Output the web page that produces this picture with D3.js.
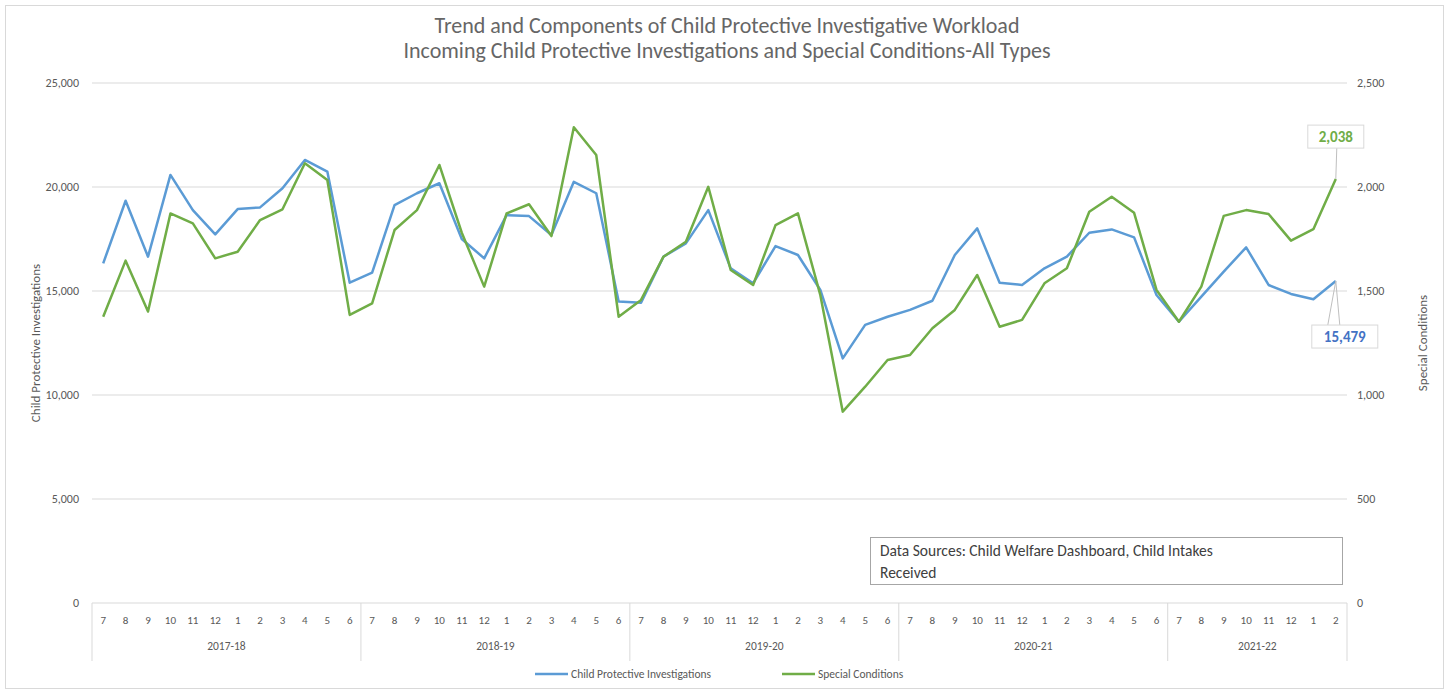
<!DOCTYPE html>
<html>
<head>
<meta charset="utf-8">
<script src="https://cdn.jsdelivr.net/npm/d3@7"></script>
<style>
  body { margin: 0; background: #fff; }
  text { font-family: Carlito, "Liberation Sans Narrow", "Open Sans", sans-serif; }
</style>
</head>
<body>
<div id="canvas"></div>
<script>
const fiscalYears = ["2017-18", "2018-19", "2019-20", "2020-21", "2021-22"];
const monthsInYear = [7, 8, 9, 10, 11, 12, 1, 2, 3, 4, 5, 6];
const lastYearMonths = [7, 8, 9, 10, 11, 12, 1, 2];

const investigations = [
  16330, 19340, 16650, 20580, 18890, 17720, 18940, 19020, 19940, 21300, 20740, 15400,
  15880, 19130, 19700, 20180, 17500, 16570, 18650, 18600, 17690, 20250, 19700, 14490,
  14440, 16650, 17290, 18890, 16090, 15370, 17160, 16730, 15050, 11760, 13370, 13760,
  14090, 14530, 16730, 18010, 15400, 15290, 16090, 16650, 17800, 17960, 17580, 14810,
  13520, 14730, 15930, 17100, 15290, 14860, 14600, 15479
];
const specialConditions = [
  1376, 1646, 1401, 1873, 1825, 1657, 1689, 1841, 1893, 2114, 2034, 1385,
  1441, 1793, 1889, 2106, 1780, 1521, 1873, 1917, 1764, 2287, 2154, 1376,
  1457, 1665, 1737, 2001, 1601, 1529, 1817, 1873, 1480, 920, 1040, 1168,
  1192, 1321, 1409, 1577, 1328, 1361, 1537, 1609, 1881, 1953, 1876, 1505,
  1352, 1521, 1861, 1889, 1870, 1742, 1797, 2038
];
const leftTicks = [0, 5000, 10000, 15000, 20000, 25000];
const rightTicks = [0, 500, 1000, 1500, 2000, 2500];

const width = 1449;
const height = 694;
const margin = { top: 83, right: 102, bottom: 91, left: 92 };
const inWidth = width - margin.left - margin.right;
const inHeight = height - margin.top - margin.bottom;

const blue = "#5b9bd5";
const green = "#70ad47";
const grey = "#595959";

// one category per month, grouped by fiscal year
const categories = [];
fiscalYears.forEach((fy, i) => {
  const ms = i === fiscalYears.length - 1 ? lastYearMonths : monthsInYear;
  ms.forEach((m) => categories.push({ fy: fy, m: m, key: fy + "-" + m }));
});
const rows = categories.map((c, i) => ({
  ...c,
  cpi: investigations[i],
  sc: specialConditions[i]
}));

const svg = d3.select("#canvas").append("svg")
  .attr("width", width)
  .attr("height", height);

svg.append("rect")
  .attr("x", 5.5).attr("y", 5.5)
  .attr("width", width - 11).attr("height", height - 11)
  .attr("fill", "#fff").attr("stroke", "#d9d9d9");

const xScale = d3.scaleBand()
  .domain(categories.map((c) => c.key))
  .range([0, inWidth]);
const xPos = (d) => xScale(d.key) + xScale.bandwidth() / 2;

const yLeft = d3.scaleLinear().domain([0, 25000]).range([inHeight, 0]);
const yRight = d3.scaleLinear().domain([0, 2500]).range([inHeight, 0]);

const g = svg.append("g")
  .attr("transform", `translate(${margin.left},${margin.top})`);

// title
const title = svg.append("text")
  .attr("text-anchor", "middle")
  .attr("fill", "#666")
  .attr("font-size", 22);
title.append("tspan").attr("x", 727).attr("y", 33)
  .text("Trend and Components of Child Protective Investigative Workload");
title.append("tspan").attr("x", 727).attr("y", 58)
  .text("Incoming Child Protective Investigations and Special Conditions-All Types");

// gridlines
g.append("g")
  .selectAll("line")
  .data(leftTicks.filter((t) => t > 0))
  .enter()
  .append("line")
  .attr("x1", 0).attr("x2", inWidth)
  .attr("y1", (d) => yLeft(d)).attr("y2", (d) => yLeft(d))
  .attr("stroke", "#d9d9d9");

// left axis
const leftAxis = g.append("g")
  .call(d3.axisLeft(yLeft).tickValues(leftTicks).tickFormat(d3.format(",")).tickSize(0).tickPadding(13));
leftAxis.select(".domain").remove();
leftAxis.selectAll("text").attr("fill", grey).attr("font-size", 12);

// right axis
const rightAxis = g.append("g")
  .attr("transform", `translate(${inWidth},0)`)
  .call(d3.axisRight(yRight).tickValues(rightTicks).tickFormat(d3.format(",")).tickSize(0).tickPadding(10));
rightAxis.select(".domain").remove();
rightAxis.selectAll("text").attr("fill", grey).attr("font-size", 12);

// axis titles
svg.append("text")
  .attr("transform", `translate(40,${margin.top + inHeight / 2}) rotate(-90)`)
  .attr("text-anchor", "middle")
  .attr("fill", grey).attr("font-size", 13)
  .text("Child Protective Investigations");
svg.append("text")
  .attr("transform", `translate(1427,${margin.top + inHeight / 2}) rotate(-90)`)
  .attr("text-anchor", "middle")
  .attr("fill", grey).attr("font-size", 13)
  .text("Special Conditions");

// category axis (month + fiscal year)
const xAxis = g.append("g").attr("transform", `translate(0,${inHeight})`);
xAxis.append("line")
  .attr("x1", 0).attr("x2", inWidth)
  .attr("stroke", "#d9d9d9");
xAxis.selectAll(".month")
  .data(categories)
  .enter()
  .append("text")
  .attr("x", xPos)
  .attr("y", 21)
  .attr("text-anchor", "middle")
  .attr("fill", grey).attr("font-size", 11)
  .text((d) => d.m);

const yearGroups = d3.groups(categories, (d) => d.fy);
const yearEdges = yearGroups.map(([fy, cs]) => ({
  fy: fy,
  x0: xScale(cs[0].key),
  x1: xScale(cs[cs.length - 1].key) + xScale.bandwidth()
}));
xAxis.selectAll(".sep")
  .data([0].concat(yearEdges.map((d) => d.x1)))
  .enter()
  .append("line")
  .attr("x1", (d) => d).attr("x2", (d) => d)
  .attr("y1", 0).attr("y2", 58)
  .attr("stroke", "#d9d9d9");
xAxis.selectAll(".year")
  .data(yearEdges)
  .enter()
  .append("text")
  .attr("x", (d) => (d.x0 + d.x1) / 2)
  .attr("y", 47)
  .attr("text-anchor", "middle")
  .attr("fill", grey).attr("font-size", 11.5)
  .text((d) => d.fy);

// lines
const cpiLine = d3.line().x(xPos).y((d) => yLeft(d.cpi));
const scLine = d3.line().x(xPos).y((d) => yRight(d.sc));

g.append("path")
  .datum(rows)
  .attr("d", cpiLine)
  .attr("fill", "none")
  .attr("stroke", blue)
  .attr("stroke-width", 2.5)
  .attr("stroke-linejoin", "round");
g.append("path")
  .datum(rows)
  .attr("d", scLine)
  .attr("fill", "none")
  .attr("stroke", green)
  .attr("stroke-width", 2.5)
  .attr("stroke-linejoin", "round");

// data labels on the last point
const last = rows[rows.length - 1];
const lx = xPos(last);
const fmt = d3.format(",");

const greenY = yRight(last.sc);
g.append("line")
  .attr("x1", lx).attr("x2", lx + 1)
  .attr("y1", greenY).attr("y2", greenY - 31)
  .attr("stroke", "#bfbfbf");
g.append("rect")
  .attr("x", lx - 28).attr("y", greenY - 54)
  .attr("width", 56).attr("height", 23)
  .attr("fill", "#fff").attr("stroke", "#d9d9d9");
g.append("text")
  .attr("x", lx).attr("y", greenY - 37)
  .attr("text-anchor", "middle")
  .attr("fill", green).attr("font-weight", "bold").attr("font-size", 15)
  .text(fmt(last.sc));

const blueY = yLeft(last.cpi);
g.append("line")
  .attr("x1", lx).attr("x2", lx - 8)
  .attr("y1", blueY).attr("y2", blueY + 44)
  .attr("stroke", "#bfbfbf");
g.append("line")
  .attr("x1", lx).attr("x2", lx + 4)
  .attr("y1", blueY).attr("y2", blueY + 44)
  .attr("stroke", "#bfbfbf");
g.append("rect")
  .attr("x", lx - 24).attr("y", blueY + 44)
  .attr("width", 66).attr("height", 23)
  .attr("fill", "#fff").attr("stroke", "#d9d9d9");
g.append("text")
  .attr("x", lx + 9).attr("y", blueY + 61)
  .attr("text-anchor", "middle")
  .attr("fill", "#4472c4").attr("font-weight", "bold").attr("font-size", 15)
  .text(fmt(last.cpi));

// data sources note
svg.append("rect")
  .attr("x", 870.5).attr("y", 537.5)
  .attr("width", 472).attr("height", 47)
  .attr("fill", "#fff").attr("stroke", "#a6a6a6");
const note = svg.append("text")
  .attr("fill", "#404040").attr("font-size", 15.5);
note.append("tspan").attr("x", 880).attr("y", 556)
  .text("Data Sources: Child Welfare Dashboard, Child Intakes");
note.append("tspan").attr("x", 880).attr("y", 578)
  .text("Received");

// legend
const legend = svg.append("g").attr("transform", "translate(535,674)");
const legendItems = [
  { name: "Child Protective Investigations", color: blue, x: 0 },
  { name: "Special Conditions", color: green, x: 247 }
];
legendItems.forEach((it) => {
  legend.append("line")
    .attr("x1", it.x).attr("x2", it.x + 33)
    .attr("stroke", it.color).attr("stroke-width", 2.5);
  legend.append("text")
    .attr("x", it.x + 36).attr("y", 4)
    .attr("fill", grey).attr("font-size", 11.5)
    .text(it.name);
});
</script>
</body>
</html>
